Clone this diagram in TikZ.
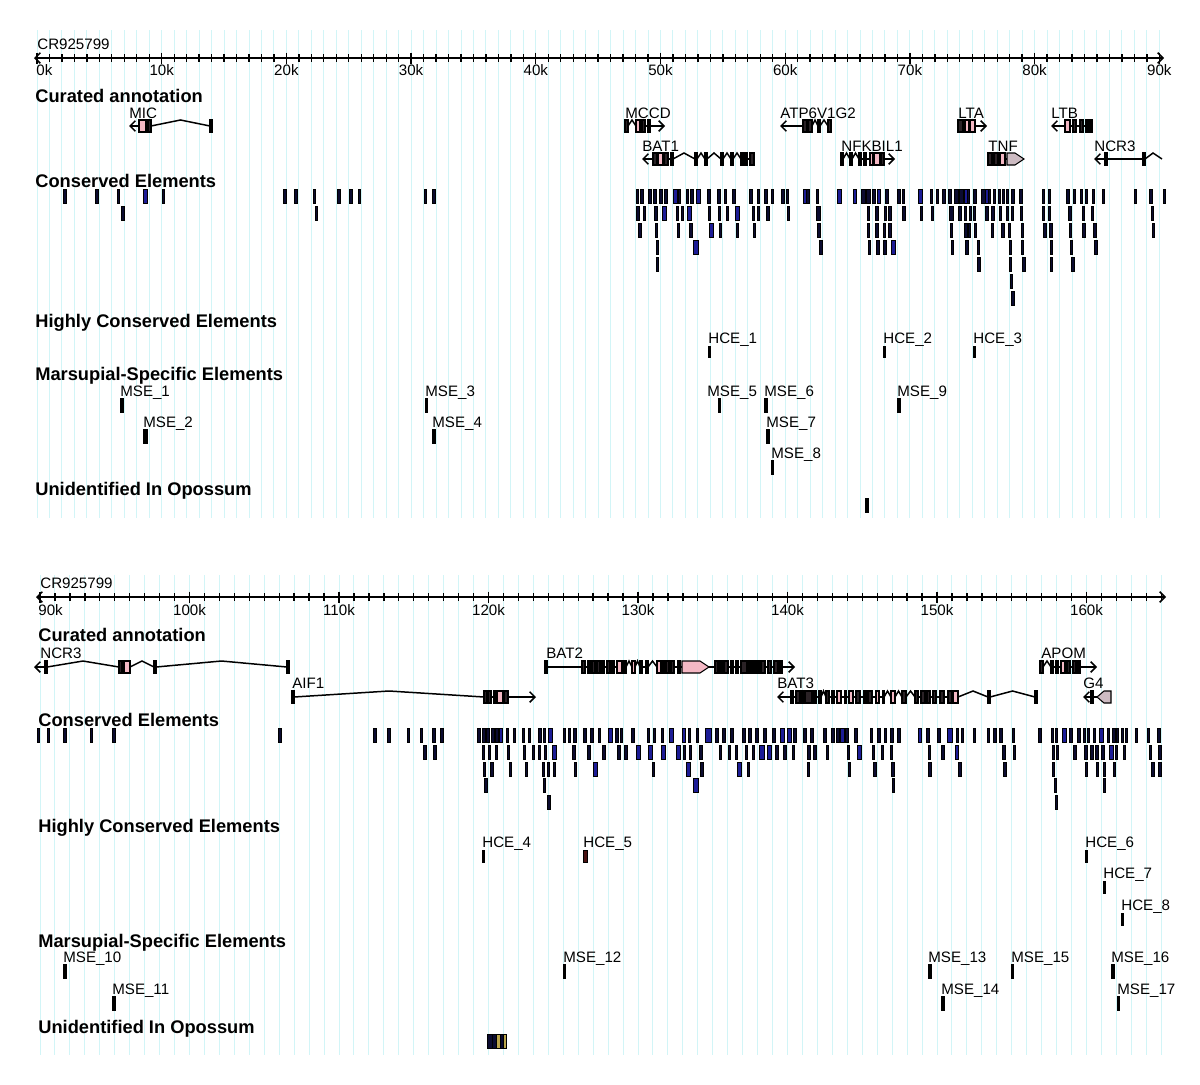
\documentclass[tikz,border=0pt]{standalone}
\usepackage{fontspec}
\setmainfont{Liberation Sans}
\usetikzlibrary{arrows.meta}

\definecolor{gridcyan}{HTML}{D2F5F7}
\definecolor{cedark}{HTML}{0B0B30}
\definecolor{ceblue}{HTML}{1C1C96}
\definecolor{exdark}{HTML}{2A2226}
\definecolor{expink}{HTML}{F4B8C4}
\definecolor{exgray}{HTML}{CDBBC2}
\definecolor{hcered}{HTML}{4A1212}
\definecolor{uioyellow}{HTML}{B9A44A}

% one gene: exons a/b/style, introns drawn as hats between them
\newcommand{\genetrack}[2]{%
  \foreach \a/\b/\c [remember=\b as \lastb (initially 0)] in {#2}{%
    \ifnum\lastb>0
      \pgfmathsetmacro{\gapw}{\a-\lastb}%
      \ifdim\gapw pt>4pt
        \draw[intron] (\lastb,#1) -- ({(\lastb+\a)/2},#1-6) -- (\a,#1);
      \else
        \draw[intron] (\lastb,#1) -- (\a,#1);
      \fi
    \fi
    \draw[exon,\c] (\a,#1-6) rectangle (\b,#1+6);
  }%
}
% one row of conserved elements: top y, fill, list x/w
\newcommand{\cerow}[3]{%
  \foreach \x/\w in {#3} \draw[ce, fill=#2] (\x,#1) rectangle ++(\w,14);%
}

\begin{document}
\begin{tikzpicture}[
    x=0.02cm, y=-0.02cm,
    >={Straight Barb[length=3pt,width=6pt]},
    gridline/.style={draw=gridcyan, line width=0.55pt},
    axisline/.style={line width=0.9pt},
    tickline/.style={line width=0.75pt},
    ticklab/.style={anchor=base, inner sep=0pt, font=\fontsize{8.6}{10}\selectfont},
    seqlab/.style={anchor=base west, inner sep=0pt, font=\fontsize{8.6}{10}\selectfont},
    tracktitle/.style={anchor=base west, inner sep=0pt, font=\fontsize{10.4}{12}\selectfont\bfseries},
    genelab/.style={anchor=base west, inner sep=0pt, font=\fontsize{8.6}{10}\selectfont},
    featlab/.style={anchor=base west, inner sep=0pt, font=\fontsize{8.6}{10}\selectfont},
    intron/.style={line width=0.85pt},
    exon/.style={draw=black, line width=0.6pt},
    exdk/.style={fill=exdark},
    expk/.style={fill=expink},
    ce/.style={draw=black, line width=0.35pt},
    featbar/.style={fill=black}
]
  \path[use as bounding box, fill=white] (0,0) rectangle (1200,1085);

  % background grid, one line per kb
  \foreach \kb in {0,...,90} \draw[gridline] ({37+12.47*\kb},30) -- ({37+12.47*\kb},518);
  \foreach \kb in {0,...,75} \draw[gridline] ({40+14.95*\kb},575) -- ({40+14.95*\kb},1055);

  % ===== upper panel: 0k-90k =====
  \node[seqlab] (seq1) at (37,50) {CR925799};
  \draw[axisline, <->] (34,58) -- (1164,58);
  \foreach \kb in {0,...,90} \draw[tickline] ({37+12.47*\kb},54) -- ({37+12.47*\kb},62);
  \foreach \kb in {0,10,...,90} \draw[tickline] ({37+12.47*\kb},52.5) -- ({37+12.47*\kb},63.5);
  \node[ticklab, anchor=base west] (tk0) at (36,75) {0k};
  \foreach \kb in {10,20,...,90} \node[ticklab] (tk\kb) at ({37+12.47*\kb},75) {\kb k};

  \node[tracktitle] (cur1) at (35,102.5) {Curated annotation};
  \node[tracktitle] (cons1) at (35,187) {Conserved Elements};
  \node[tracktitle] (hcet1) at (35,327) {Highly Conserved Elements};
  \node[tracktitle] (mset1) at (35,380) {Marsupial-Specific Elements};
  \node[tracktitle] (uiot1) at (35,495) {Unidentified In Opossum};

  % MIC
  \node[genelab] (mic) at (129,118) {MIC};
  \draw[intron, ->] (139,126) -- (129,126);
  \genetrack{126}{139/146/expk, 148/151/exdk, 210/212/exdk}
  % MCCD
  \node[genelab] (mccd) at (625,118) {MCCD};
  \genetrack{126}{625/628/exdk, 636/640/expk, 642/645/exdk, 648/650/exdk}
  \draw[intron, ->] (650,126) -- (665,126);
  % BAT1
  \node[genelab] (bat1) at (642,151) {BAT1};
  \draw[intron, ->] (653,159) -- (642,159);
  \genetrack{159}{653/657/exdk, 658/663/expk, 664/668/exdk, 671/673/exdk, 695/697/exdk, 705/707/exdk,
    721/723/exdk, 731/733/exdk, 741/743/exdk, 745/747/exdk, 750/754/exdk}
  % ATP6V1G2
  \node[genelab] (atp) at (780,118) {ATP6V1G2};
  \draw[intron, ->] (803,126) -- (780,126);
  \genetrack{126}{803/807/exdk, 808/812/exdk, 818/820/exdk, 828/831/exdk}
  % NFKBIL1
  \node[genelab] (nfkbil) at (841,151) {NFKBIL1};
  \genetrack{159}{841/843/exdk, 850/852/exdk, 859/861/exdk, 864/866/exdk, 870/873/expk, 874/880/expk, 881/884/exdk}
  \draw[intron, ->] (884,159) -- (895,159);
  % LTA
  \node[genelab] (lta) at (958,118) {LTA};
  \genetrack{126}{958/963/exdk, 965/969/expk, 970/975/expk}
  \draw[intron, ->] (975,126) -- (987,126);
  % TNF
  \node[genelab] (tnf) at (988,151) {TNF};
  \genetrack{159}{988/992/exdk, 994/998/exdk, 1000/1005/expk}
  \draw[intron] (1005,159) -- (1007,159);
  \draw[exon, fill=exgray] (1007,153) -- (1015,153) -- (1024,159) -- (1015,165) -- (1007,165) -- cycle;
  % LTB
  \node[genelab] (ltb) at (1051,118) {LTB};
  \draw[intron, ->] (1065,126) -- (1051,126);
  \genetrack{126}{1065/1070/expk, 1073/1076/exdk, 1080/1083/exdk, 1086/1088/exdk, 1090/1092/exdk}
  % NCR3 (start)
  \node[genelab] (ncr3a) at (1094,151) {NCR3};
  \draw[intron, ->] (1105,159) -- (1094,159);
  \draw[intron] (1105,159) -- (1143,159);
  \draw[intron] (1145,159) -- (1153,153) -- (1162,159);
  \draw[exon, exdk] (1105,153) rectangle (1107,165);
  \draw[exon, exdk] (1143,153) rectangle (1145,165);

  % conserved elements
  \cerow{189}{cedark}{63/3, 95/3, 117/2, 162/2, 283/3, 294/3, 313/2, 337/3, 349/3, 358/2, 424/2, 432/3,
    636/2, 640/3, 648/3, 653/3, 659/3, 664/3, 678/2, 686/2, 690/3, 707/3, 717/3, 724/2, 732/3, 749/3,
    757/2, 764/3, 771/2, 781/3, 786/2, 806/3, 816/2, 861/4, 866/4, 872/3, 885/3, 897/3, 902/2, 930/2,
    936/2, 942/3, 948/3, 954/4, 959/4, 967/2, 973/3, 981/4, 988/2, 993/2, 998/2, 1002/2, 1006/2,
    1011/3, 1019/3, 1042/2, 1048/2, 1066/3, 1073/2, 1080/2, 1085/2, 1092/2, 1102/2, 1134/2, 1149/3, 1163/2}
  \cerow{189}{ceblue}{143/4, 673/4, 696/4, 803/3, 837/4, 853/3, 877/3, 918/4, 964/3, 985/3}
  \cerow{206}{cedark}{121/3, 315/2, 636/3, 643/2, 654/3, 676/2, 681/2, 708/2, 718/2, 726/2, 752/2, 757/2,
    766/3, 787/2, 816/4, 867/2, 875/3, 884/2, 888/3, 902/3, 920/2, 931/2, 949/4, 958/3, 964/2, 969/2,
    973/2, 985/3, 991/3, 999/2, 1006/2, 1011/2, 1020/2, 1042/2, 1048/2, 1068/3, 1082/2, 1091/2, 1151/2}
  \cerow{206}{ceblue}{662/4, 687/4, 735/4}
  \cerow{223}{cedark}{638/3, 655/2, 677/2, 689/3, 719/2, 736/2, 753/2, 817/3, 867/2, 875/3, 883/2, 888/3,
    950/2, 964/3, 968/2, 974/2, 991/2, 1001/3, 1008/2, 1021/2, 1043/3, 1049/3, 1069/2, 1082/3, 1093/3, 1152/2}
  \cerow{223}{ceblue}{709/4}
  \cerow{240}{cedark}{656/2, 819/3, 868/2, 876/3, 883/3, 951/2, 965/3, 977/2, 1009/2, 1021/2, 1050/2, 1070/2, 1094/3}
  \cerow{240}{ceblue}{693/5, 891/4}
  \cerow{257}{cedark}{656/2, 977/3, 1009/2, 1022/3, 1050/2, 1071/3}
  \cerow{274}{cedark}{1010/2}
  \cerow{291}{cedark}{1011/3}

  % highly conserved elements
  \foreach \i/\lx/\bx/\w in {1/708/708/2, 2/883/883/2, 3/973/973/2}{
    \draw[featbar] (\bx,346) rectangle ++(\w,11);
    \node[featlab] (hce\i) at (\lx,343) {HCE\_\i};
  }
  % marsupial-specific elements
  \foreach \i/\lx/\bx/\top/\w in {1/120/120/398/3, 3/425/425/398/2, 5/707/718/398/2, 6/764/764/398/3,
      9/897/897/398/3, 2/143/143/429/4, 4/432/432/429/3, 7/766/766/429/3, 8/771/771/460/2}{
    \draw[featbar] (\bx,\top) rectangle ++(\w,14);
    \node[featlab] (mse\i) at (\lx,\top-2) {MSE\_\i};
  }
  % unidentified in opossum
  \draw[featbar] (865,498) rectangle ++(3,14);

  % ===== lower panel: 90k-165k =====
  \node[seqlab] (seq2) at (40,588) {CR925799};
  \draw[axisline, <->] (36,597) -- (1166,597);
  \foreach \kb in {90,...,165} \draw[tickline] ({40+14.95*(\kb-90)},593) -- ({40+14.95*(\kb-90)},601);
  \foreach \kb in {90,100,...,160} \draw[tickline] ({40+14.95*(\kb-90)},591.5) -- ({40+14.95*(\kb-90)},602.5);
  \node[ticklab, anchor=base west] (tk90b) at (38,615) {90k};
  \foreach \kb in {100,110,...,160} \node[ticklab] (tkb\kb) at ({40+14.95*(\kb-90)},615) {\kb k};

  \node[tracktitle] (cur2) at (38,641) {Curated annotation};
  \node[tracktitle] (cons2) at (38,726) {Conserved Elements};
  \node[tracktitle] (hcet2) at (38,832) {Highly Conserved Elements};
  \node[tracktitle] (mset2) at (38,947) {Marsupial-Specific Elements};
  \node[tracktitle] (uiot2) at (38,1033) {Unidentified In Opossum};

  % NCR3 (end)
  \node[genelab] (ncr3b) at (40,658) {NCR3};
  \draw[intron, ->] (45,667) -- (34,667);
  \genetrack{667}{45/47/exdk, 119/122/exdk, 124/130/expk, 154/156/exdk, 287/289/exdk}
  % AIF1
  \node[genelab] (aif1) at (292,688) {AIF1};
  \genetrack{697}{292/294/exdk, 484/487/exdk, 488/491/exdk, 494/496/exdk, 497/503/expk, 504/508/exdk}
  \draw[intron, ->] (508,697) -- (536,697);
  % BAT2
  \node[genelab] (bat2) at (546,658) {BAT2};
  \draw[intron] (546,667) -- (582,667);
  \draw[exon, exdk] (545,661) rectangle (547,673);
  \genetrack{667}{582/585/exdk, 588/590/exdk, 592/595/exdk, 597/600/exdk, 602/604/exdk, 607/610/exdk,
    612/614/exdk, 617/622/expk, 624/626/exdk, 632/635/expk, 640/642/exdk, 646/648/expk, 657/661/expk,
    663/665/exdk, 666/669/exdk, 671/674/exdk, 678/680/exdk}
  \draw[intron] (680,667) -- (682,667);
  \draw[exon, expk] (682,661) -- (700,661) -- (709,667) -- (700,673) -- (682,673) -- cycle;
  \draw[intron] (709,667) -- (715,667);
  \genetrack{667}{715/718/exdk, 720/722/exdk, 724/728/exdk, 731/733/exdk, 736/738/exdk, 741/747/exdk,
    749/751/exdk, 753/755/exdk, 757/759/exdk, 761/765/exdk, 768/771/exdk, 774/778/exdk, 780/782/exdk}
  \draw[intron, ->] (782,667) -- (795,667);
  % BAT3
  \node[genelab] (bat3) at (777,688) {BAT3};
  \draw[intron, ->] (791,697) -- (777,697);
  \genetrack{697}{791/793/exdk, 796/800/exdk, 801/803/exdk, 805/812/exdk, 814/816/exdk, 819/821/exdk,
    826/829/exdk, 832/834/exdk, 837/841/expk, 845/846/exdk, 849/853/expk, 856/860/exdk, 864/866/exdk,
    868/872/exdk, 876/879/expk, 883/884/exdk, 891/895/expk, 902/906/exdk, 915/918/exdk, 921/925/exdk,
    927/930/exdk, 933/936/exdk, 940/944/exdk, 948/952/exdk, 953/958/expk, 988/990/exdk, 1035/1037/exdk}
  % APOM
  \node[genelab] (apom) at (1041,658) {APOM};
  \genetrack{667}{1040/1043/exdk, 1051/1053/exdk, 1056/1058/exdk, 1061/1065/expk, 1067/1070/exdk,
    1073/1076/exdk, 1078/1080/exdk}
  \draw[intron, ->] (1080,667) -- (1097,667);
  % G4
  \node[genelab] (g4) at (1083,688) {G4};
  \draw[intron, ->] (1097,697) -- (1083,697);
  \draw[exon, exdk] (1091,691) rectangle (1093,703);
  \draw[exon, fill=exgray] (1111,691) -- (1104,691) -- (1097,697) -- (1104,703) -- (1111,703) -- cycle;

  % conserved elements
  \cerow{728}{cedark}{37/2, 47/2, 63/3, 90/2, 112/3, 278/3, 373/3, 387/3, 407/2, 420/2, 432/3, 440/3,
    477/3, 482/3, 486/3, 491/3, 495/3, 506/2, 513/2, 522/2, 528/2, 538/3, 543/2, 563/2, 568/2, 573/3,
    583/3, 590/3, 598/2, 615/3, 620/2, 631/3, 647/2, 653/2, 661/2, 688/2, 696/2, 715/3, 722/3, 730/3,
    742/3, 748/3, 755/3, 763/3, 772/3, 793/3, 803/3, 810/3, 823/3, 831/3, 836/3, 845/3, 854/3, 870/2,
    877/3, 884/2, 890/3, 897/3, 926/3, 937/3, 956/2, 961/2, 973/2, 987/2, 993/3, 999/3, 1012/2, 1038/3,
    1051/2, 1055/2, 1069/3, 1077/3, 1083/2, 1087/2, 1093/2, 1107/2, 1112/3, 1116/2, 1121/2, 1125/2,
    1135/2, 1147/2, 1157/3}
  \cerow{728}{ceblue}{499/3, 548/4, 608/4, 669/4, 682/3, 705/6, 780/4, 787/4, 840/4, 918/3, 947/5, 1062/4, 1099/4}
  \cerow{745}{cedark}{423/3, 433/3, 482/2, 488/2, 495/2, 507/2, 523/2, 532/2, 538/2, 544/2, 572/3, 587/3,
    602/3, 617/3, 624/3, 683/2, 689/2, 699/3, 719/2, 728/2, 735/2, 745/2, 752/2, 775/3, 783/3, 792/2,
    807/3, 813/3, 826/2, 847/2, 872/2, 881/2, 890/2, 928/2, 941/3, 1002/3, 1013/2, 1052/2, 1056/2,
    1073/3, 1084/3, 1090/3, 1095/3, 1101/3, 1115/2, 1123/2, 1149/2, 1158/3}
  \cerow{745}{ceblue}{552/4, 636/4, 648/4, 661/4, 676/4, 759/5, 767/4, 857/4, 955/3, 1109/4}
  \cerow{762}{cedark}{483/2, 490/3, 509/2, 525/2, 542/2, 547/2, 553/2, 574/2, 652/2, 700/3, 747/2, 807/2,
    848/2, 873/3, 891/3, 928/3, 958/3, 1003/3, 1052/2, 1085/2, 1096/2, 1103/2, 1113/2, 1151/3, 1158/3}
  \cerow{762}{ceblue}{593/4, 686/4, 737/4}
  \cerow{778}{cedark}{484/3, 543/2, 892/2, 1054/2, 1103/2}
  \cerow{778}{ceblue}{693/5}
  \cerow{795}{cedark}{547/3, 1055/2}

  % highly conserved elements
  \foreach \i/\lx/\bx/\top/\w in {4/482/482/850/2, 6/1085/1085/850/2, 7/1103/1103/881/2, 8/1121/1121/913/2}{
    \draw[featbar] (\bx,\top) rectangle ++(\w,12);
    \node[featlab] (hce\i) at (\lx,\top-3) {HCE\_\i};
  }
  \draw[featbar, fill=hcered] (583,850) rectangle ++(4,12);
  \node[featlab] (hce5) at (583,847) {HCE\_5};
  % marsupial-specific elements
  \foreach \i/\lx/\bx/\top/\w in {10/63/63/964/3, 12/563/563/964/2, 13/928/928/964/3, 15/1011/1011/964/2,
      16/1111/1111/964/3, 11/112/112/996/3, 14/941/941/996/3, 17/1117/1117/996/2}{
    \draw[featbar] (\bx,\top) rectangle ++(\w,14);
    \node[featlab] (mse\i) at (\lx,\top-2) {MSE\_\i};
  }
  % unidentified in opossum
  \draw[ce, fill=cedark] (487,1034) rectangle ++(5,14);
  \draw[ce, fill=cedark] (492,1034) rectangle ++(4,14);
  \draw[ce, fill=uioyellow] (496,1034) rectangle ++(4,14);
  \draw[ce, fill=cedark] (500,1034) rectangle ++(3,14);
  \draw[ce, fill=uioyellow] (503,1034) rectangle ++(3,14);
\end{tikzpicture}
\end{document}
